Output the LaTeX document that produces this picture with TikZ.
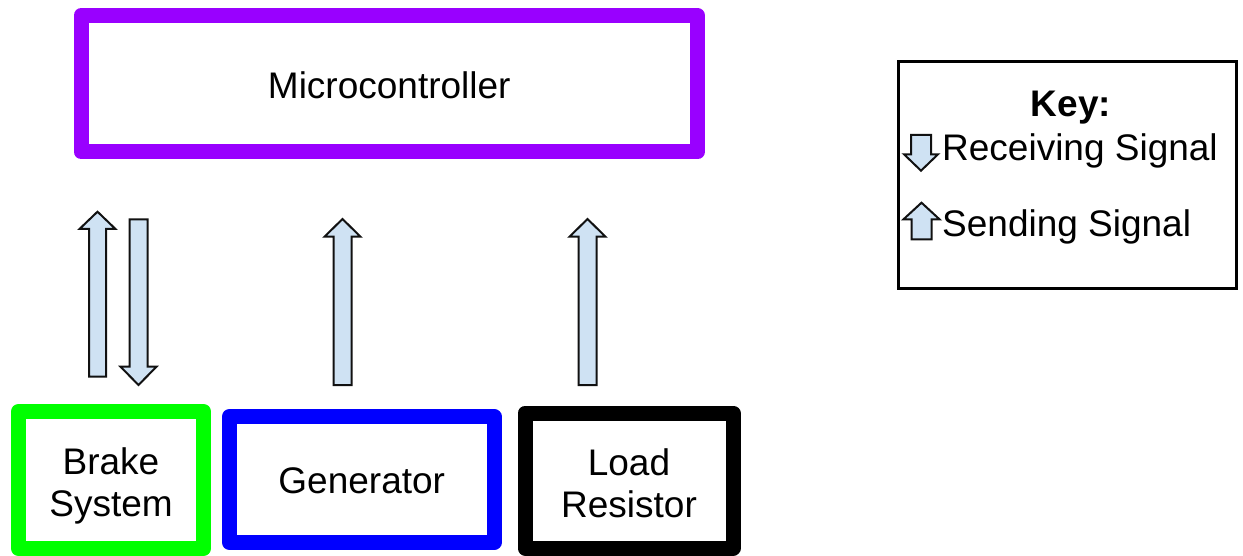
\documentclass[tikz,border=0pt]{standalone}
\usepackage{fontspec}
\setmainfont{Liberation Sans}
\definecolor{mcpurple}{HTML}{9900FF}
\definecolor{bsgreen}{HTML}{00FF00}
\definecolor{genblue}{HTML}{0000FF}
\definecolor{arrfill}{HTML}{CFE2F3}
\definecolor{arrline}{HTML}{111111}
% block arrow: #1 centre x, #2 tip y, #3 head base y, #4 tail y, #5 head half width, #6 shaft half width
\newcommand{\blockarrow}[6]{%
  \draw[arrowbody] (#1-#6,#4) -- (#1-#6,#3) -- (#1-#5,#3) -- (#1,#2) -- (#1+#5,#3) -- (#1+#6,#3) -- (#1+#6,#4) -- cycle;}
\tikzset{
  box/.style={draw, line width=15pt, line join=round, fill=white, inner sep=0pt},
  boxtext/.style={align=center, font=\fontsize{37}{42}\selectfont, inner sep=0pt},
  arrowbody/.style={draw=arrline, fill=arrfill, line width=2pt, line join=miter},
  keytext/.style={font=\fontsize{37}{42}\selectfont, inner sep=0pt, anchor=base west},
}
\begin{document}
\begin{tikzpicture}[x=1pt,y=-1pt]
\useasboundingbox (0,0) rectangle (1243,556);
% boxes
\node[box, draw=mcpurple, minimum width=616.5pt, minimum height=136.7pt] (mc) at (389.25,83.65) {};
\node[boxtext] (mct) at (389.25,85.5) {Microcontroller};
\node[box, draw=bsgreen, minimum width=185pt, minimum height=137pt] (bs) at (111,480) {};
\node[boxtext] (bst) at (111,486) {Brake\\System};
\node[box, draw=genblue, minimum width=264.5pt, minimum height=126pt] (gen) at (361.75,479.5) {};
\node[boxtext] (gent) at (361.75,480.5) {Generator};
\node[box, draw=black, minimum width=208pt, minimum height=135pt] (lr) at (629,480.5) {};
\node[boxtext] (lrt) at (629,483.5) {Load\\Resistor};
% signal arrows
\blockarrow{97.5}{211.7}{229}{376.7}{18}{8.5}
\blockarrow{138.5}{385}{366.7}{219.3}{18}{9}
\blockarrow{342.5}{219}{236.7}{385}{18}{9}
\blockarrow{587.5}{219}{236.7}{385}{18}{9}
% key
\node[draw=black, line width=3pt, minimum width=338pt, minimum height=227pt, inner sep=0pt] (key) at (1067.5,175) {};
\node[keytext, anchor=base, font=\fontsize{37}{42}\selectfont\bfseries] (keyt) at (1071,117) {Key:};
\blockarrow{921}{170.7}{154.3}{135}{17}{10}
\node[keytext] (recv) at (942,160.5) {Receiving Signal};
\blockarrow{921.5}{202.7}{219.3}{239.3}{18}{10}
\node[keytext] (send) at (942,237) {Sending Signal};
\end{tikzpicture}
\end{document}
